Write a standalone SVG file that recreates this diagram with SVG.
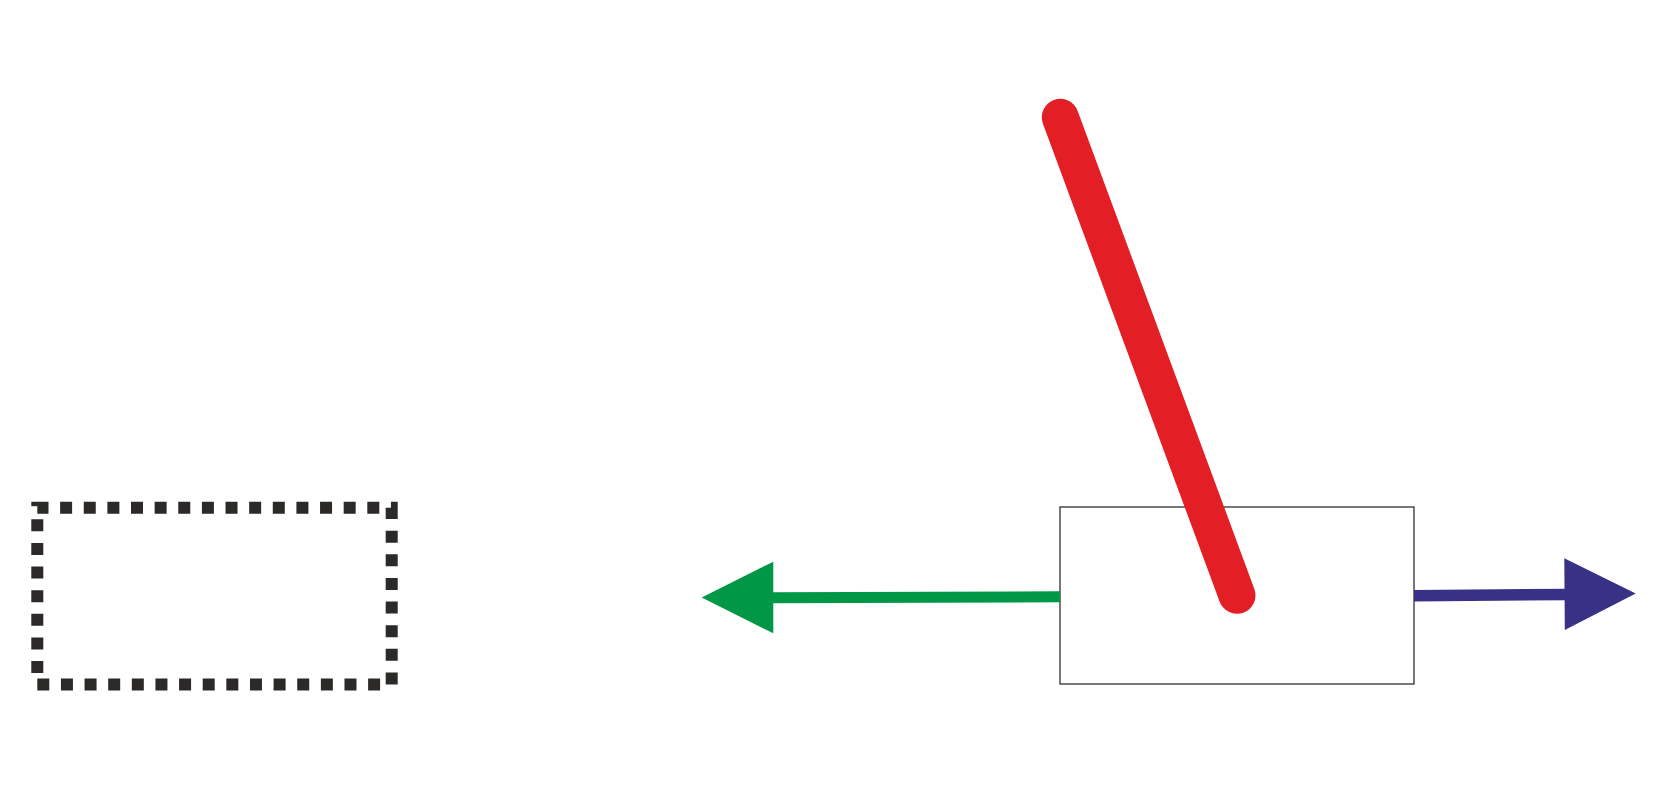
<svg xmlns="http://www.w3.org/2000/svg" width="1657" height="803" viewBox="0 0 1657 803">
  <style>
    .dashed { fill: none; stroke: #2B2A29; stroke-width: 12; stroke-dasharray: 12 11.63; stroke-linejoin: miter; }
    .dash-bit { fill: #2B2A29; }
    .box { fill: #FFFFFF; stroke: #1E1E1E; stroke-width: 1.2; }
    .green { stroke: #009846; stroke-width: 11; fill: none; }
    .green-head { fill: #009846; }
    .blue { stroke: #393185; stroke-width: 11.5; fill: none; }
    .blue-head { fill: #393185; }
    .red { stroke: #E31E24; stroke-width: 37; stroke-linecap: round; fill: none; }
  </style>
  <rect x="0" y="0" width="1657" height="803" fill="#FFFFFF"/>
  <g id="dashed-box">
    <path class="dashed" d="M37.3,684.5 H391.7 V507.8 H37.3"/>
    <path class="dashed" stroke-dashoffset="12.13" d="M37.3,507.8 V676"/>
    <rect class="dash-bit" x="31.3" y="501.8" width="6.5" height="4.4"/>
  </g>
  <g id="box">
    <rect class="box" x="1060" y="507" width="354" height="177"/>
  </g>
  <g id="connectors">
    <g id="green-arrow">
      <line class="green" x1="1060" y1="596.8" x2="770" y2="597.8"/>
      <polygon class="green-head" points="773.3,561.7 701.7,597.6 773.3,633.3"/>
    </g>
    <g id="blue-arrow">
      <line class="blue" x1="1414" y1="595.8" x2="1567" y2="594.4"/>
      <polygon class="blue-head" points="1564.3,558.3 1635.7,593.6 1564.8,630"/>
    </g>
    <g id="red-line">
      <line class="red" x1="1060.3" y1="117.3" x2="1237" y2="595.3"/>
    </g>
  </g>
</svg>
